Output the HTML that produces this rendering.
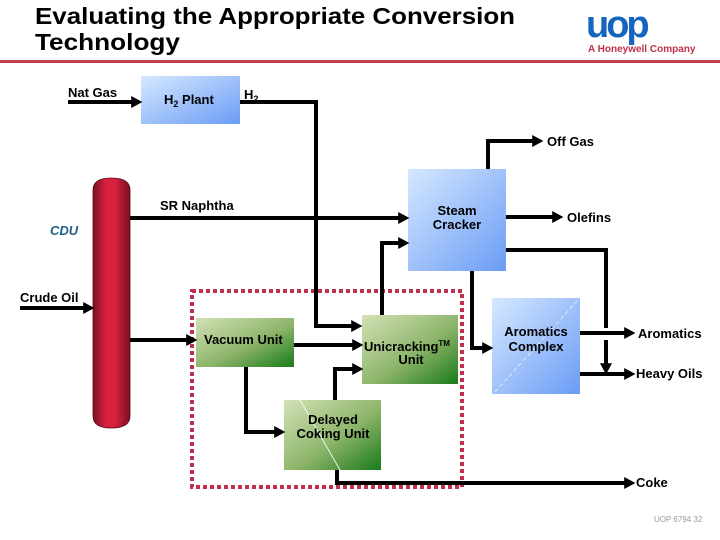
<!DOCTYPE html>
<html><head><meta charset="utf-8"><style>
body{margin:0;background:#fff;}
svg{display:block;font-family:"Liberation Sans",Arial,sans-serif;}
</style></head><body>
<svg width="720" height="540" viewBox="0 0 720 540" xmlns="http://www.w3.org/2000/svg">
<defs>
<linearGradient id="blue" x1="0" y1="0" x2="1" y2="1"><stop offset="0" stop-color="#d6e8ff"/><stop offset="1" stop-color="#6a9cf5"/></linearGradient>
<linearGradient id="green" x1="0" y1="0" x2="1" y2="1"><stop offset="0" stop-color="#d3e2b6"/><stop offset="0.55" stop-color="#8db56a"/><stop offset="1" stop-color="#1a7a1a"/></linearGradient>
<linearGradient id="red" x1="0" y1="0" x2="1" y2="0"><stop offset="0" stop-color="#7a0f22"/><stop offset="0.35" stop-color="#d8203f"/><stop offset="0.6" stop-color="#d8203f"/><stop offset="1" stop-color="#7a0f22"/></linearGradient>
<marker id="a" markerWidth="3.2" markerHeight="3.2" refX="1.2" refY="1.5" orient="auto" markerUnits="strokeWidth"><path d="M0,0 L2.8,1.5 L0,3 z" fill="#000"/></marker>
</defs>
<text x="35" y="24" font-size="23" font-weight="bold" textLength="480" lengthAdjust="spacingAndGlyphs">Evaluating the Appropriate Conversion</text>
<text x="35" y="50" font-size="23" font-weight="bold" textLength="145" lengthAdjust="spacingAndGlyphs">Technology</text>
<text x="586" y="37" font-size="38" font-weight="bold" fill="#1565c0" letter-spacing="-3">uop</text>
<text x="588" y="52" font-size="10" font-weight="bold" fill="#c0304a">A Honeywell Company</text>
<rect x="0" y="60" width="720" height="3" fill="#c0404f"/>

<rect x="141" y="76" width="99" height="48" fill="url(#blue)"/>
<rect x="408" y="169" width="98" height="102" fill="url(#blue)"/>
<rect x="492" y="298" width="88" height="96" fill="url(#blue)"/>
<rect x="196" y="318" width="98" height="49" fill="url(#green)"/>
<rect x="362" y="315" width="96" height="69" fill="url(#green)"/>
<rect x="284" y="400" width="97" height="70" fill="url(#green)"/>
<line x1="300" y1="400" x2="340" y2="470" stroke="#fff" stroke-width="0.8"/>
<line x1="495" y1="392" x2="578" y2="300" stroke="#fff" stroke-width="0.6" stroke-dasharray="4,3"/>
<path d="M93,190 Q93,178 111,178 Q130,178 130,190 L130,416 Q130,428 111,428 Q93,428 93,416 Z" fill="url(#red)" stroke="#5a0a18" stroke-width="0.8"/>
<rect x="192" y="291" width="270" height="196" fill="none" stroke="#c0304a" stroke-width="4" stroke-dasharray="4,3"/>

<g stroke="#000" stroke-width="4" fill="none">
<line x1="68" y1="102" x2="136" y2="102" marker-end="url(#a)"/>
<polyline points="240,102 316,102 316,326 356,326" marker-end="url(#a)"/>
<line x1="20" y1="308" x2="88" y2="308" marker-end="url(#a)"/>
<line x1="130" y1="218" x2="403" y2="218" marker-end="url(#a)"/>
<polyline points="488,169 488,141 537,141" marker-end="url(#a)"/>
<line x1="506" y1="217" x2="557" y2="217" marker-end="url(#a)"/>
<polyline points="506,250 606,250 606,328"/>
<line x1="606" y1="340" x2="606" y2="368" marker-end="url(#a)"/>
<polyline points="382,315 382,243 403,243" marker-end="url(#a)"/>
<polyline points="472,271 472,348 487,348" marker-end="url(#a)"/>
<line x1="130" y1="340" x2="191" y2="340" marker-end="url(#a)"/>
<line x1="294" y1="345" x2="357" y2="345" marker-end="url(#a)"/>
<polyline points="246,367 246,432 279,432" marker-end="url(#a)"/>
<polyline points="335,400 335,369 357,369" marker-end="url(#a)"/>
<polyline points="337,470 337,483 629,483" marker-end="url(#a)"/>
<line x1="580" y1="333" x2="629" y2="333" marker-end="url(#a)"/>
<line x1="580" y1="374" x2="629" y2="374" marker-end="url(#a)"/>
</g>

<g font-size="13" fill="#000" font-weight="bold">
<text x="68" y="97">Nat Gas</text>
<text x="164" y="104">H<tspan font-size="9" dy="3">2</tspan><tspan dy="-3"> Plant</tspan></text>
<text x="244" y="99">H<tspan font-size="9" dy="3">2</tspan></text>
<text x="547" y="146">Off Gas</text>
<text x="160" y="210">SR Naphtha</text>
<text x="457" y="215" text-anchor="middle">Steam</text>
<text x="457" y="229" text-anchor="middle">Cracker</text>
<text x="567" y="222">Olefins</text>
<text x="50" y="235" font-style="italic" fill="#1f5f8a">CDU</text>
<text x="20" y="302">Crude Oil</text>
<text x="204" y="344">Vacuum Unit</text>
<text x="364" y="351">Unicracking<tspan font-size="8" dy="-5">TM</tspan></text>
<text x="411" y="364" text-anchor="middle">Unit</text>
<text x="536" y="336" text-anchor="middle">Aromatics</text>
<text x="536" y="351" text-anchor="middle">Complex</text>
<text x="638" y="338">Aromatics</text>
<text x="636" y="378">Heavy Oils</text>
<text x="333" y="424" text-anchor="middle">Delayed</text>
<text x="333" y="438" text-anchor="middle">Coking Unit</text>
<text x="636" y="487">Coke</text>
</g>
<text x="654" y="522" font-size="8" fill="#999">UOP 6794 32</text>
</svg>
</body></html>
